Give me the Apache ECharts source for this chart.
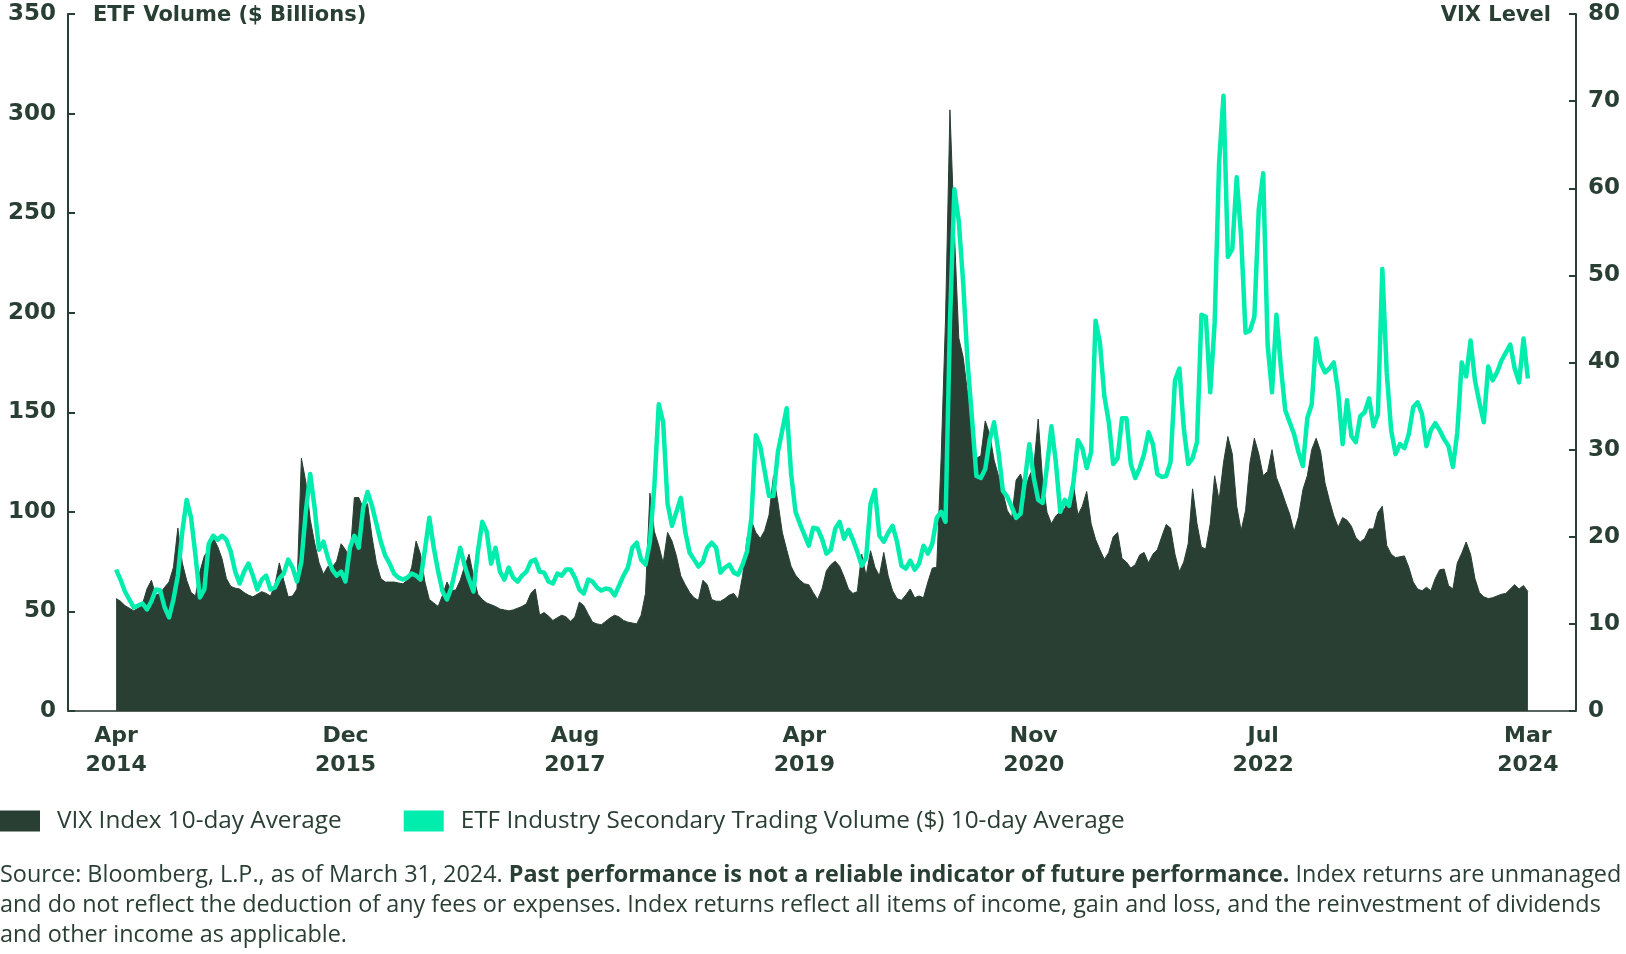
<!DOCTYPE html>
<html>
<head>
<meta charset="utf-8">
<script src="https://cdn.jsdelivr.net/npm/echarts@6/dist/echarts.min.js"></script>
<style>
html,body{margin:0;padding:0;background:#fff;}
#chart{width:1626px;height:954px;}
</style>
</head>
<body>
<div id="chart"></div>
<script>
// ETF Industry Secondary Trading Volume ($B), 10-day average, evenly spaced samples Apr 2014 – Mar 2024
const etfVolume = [
71,66,60,56,52,53,54,51,55,61,
60.5,52,47,56,68,90,106,97,78,57,
61,84,88,86,88,86,80,70,64,70,
74,68,61,66,68,61,62,66.5,69,76,
72,65,75,100,119,102,81,85,77,71,
68,70,65,82,88,82,102,110,103,94,
85,78,74,69,67,66,67,69,68,66,
81,97,82,70,60,56,62,72,82,73,
66,60,80,95,90,74,82,70,66,72,
67,65,68,70,75,76,70,69.5,65,64,
69,68,71,71,67,61,59,66,65,62,
60.5,61.5,61,58,63,68,72,82,84.5,76,
73.5,85,113,154,145,104,93,100,107,90,
79.5,76,72.5,75,82,84.5,82,69.5,72,73.5,
69.5,68.5,73.5,80,97,138.5,133,120.5,108,108,
130,141,152,119,100,94,88.5,83,92,91.5,
86.5,79,81,91.5,95,86.5,91,86,80,73,
77,104,111,88,85,89.5,93,85,73,71.5,
75.5,71,74,83,79,84,97,100,95,195,
262,246,215,175,147,118,117,121.5,136,145,
130,110.5,107.5,102.5,97,99,116,134,117,106,
104.5,123,143,125,100,106,103,115,136,132,
122,130,196,185,158,145,124,127,147,147,
124,117,122,129,140,134,119,117.5,118,125,
166,172,142,124,127,135,199,198,160,195,
275,309,228,232,268,238,190,191,198,252,
270,184,160,199,173,151,145,139,130,123,
147,154,187,175,170,172,175,160,134,156,
138,135,148,150,157,143,149,222,170,141,
129,134,132,139,152.5,155,149,133,141,144.5,
141,136.5,133,122.5,140,175,168,186,166,155,
145,173,166,170,176,180,184,172,165,187,
167
];

// VIX Index, 10-day average, same sample points
const vixLevel = [
12.9,12.6,12.1,11.8,11.5,11.8,12.3,14,15,13.3,
13.5,14.2,14.8,16.5,21,17,15,13.6,13.2,16,
17.8,18.5,19.9,18.9,17.5,15.2,14.3,14.1,14,13.6,
13.3,13.1,13.4,13.7,13.5,13.2,14.5,17,15,13.1,
13.2,14,29,26.3,22,19.3,17,15.7,16.6,16.5,
17.2,19.2,18.5,17.5,24.5,24.5,23.3,23.8,20,17,
15.2,14.8,14.8,14.8,14.7,14.6,15,16.5,19.5,18,
14.8,12.8,12.4,12,13.3,14.8,13.8,13.9,15,16.6,
18,15.5,13.4,12.8,12.4,12.2,12,11.7,11.6,11.5,
11.6,11.8,12,12.3,13.5,14,11,11.3,10.9,10.4,
10.7,11,10.8,10.3,10.8,12.5,12.1,11.1,10.2,10,
9.9,10.3,10.7,11,10.8,10.4,10.2,10.1,10,11,
13.5,25,20.6,19,17,20.5,19.5,17.8,15.5,14.5,
13.6,13,12.7,15,14.5,12.8,12.6,12.6,12.9,13.3,
13.5,12.8,15.5,19.8,21.8,20.5,19.8,20.7,22.5,27,
24,20.5,18.5,16.6,15.6,15,14.6,14.5,13.6,12.8,
14,16.1,16.8,17.2,16.6,15.4,14,13.5,13.7,18,
15.5,18.4,16.5,15.5,18.2,15.5,13.8,12.9,12.7,13.3,
14,13,13.2,13,14.8,16.4,16.5,29,45,69,
55,42.8,40.6,36.5,32.8,29,29.3,33.3,31.8,28.8,
27,25.1,23,22.2,26.5,27.2,25.5,27,28,33.5,
26.5,22.8,21.5,22.4,22.8,23.2,24.5,26,22.5,23.5,
25.2,21.5,19.7,18.5,17.4,18.2,20,20.5,17.5,17.1,
16.4,16.8,17.9,18.2,17,18,18.5,20,21.4,21,
18,16,17.1,19.2,25.5,21.5,18.8,18.6,21.5,27,
24.2,28.5,31.5,29.5,23.5,20.7,23,28.5,31.3,29.5,
27,27.5,30,26.8,25.5,24,22.6,20.6,22.3,25.4,
27,30,31.3,29.8,26.2,24.2,22.4,21.1,22.2,21.9,
21.2,19.9,19.4,19.8,20.9,20.9,22.8,23.5,19,18,
17.6,17.7,17.8,16.5,14.8,14,13.8,14.2,13.8,15.2,
16.2,16.3,14.4,14,17,18.1,19.4,18,15.2,13.6,
13.1,12.9,13,13.2,13.4,13.5,14,14.5,14,14.4,
13.7
];

// x-axis tick labels and the sample index each one sits on
const tickPositions = [0, 52, 104, 156, 208, 260, 320];
const tickLabels = ['Apr\n2014', 'Dec\n2015', 'Aug\n2017', 'Apr\n2019', 'Nov\n2020', 'Jul\n2022', 'Mar\n2024'];

const seriesNames = ['VIX Index 10-day Average', 'ETF Industry Secondary Trading Volume ($) 10-day Average'];

const DARK = '#293F33';
const TEAL = '#00EDAD';
const boldFont = 'DejaVu Sans';
const textFont = 'Open Sans';

const chart = echarts.init(document.getElementById('chart'), null, {renderer: 'canvas'});

const yLabelStyle = {fontFamily: boldFont, fontWeight: 'bold', fontSize: 23, color: DARK, margin: 12};

chart.setOption({
  animation: false,
  grid: {left: 68, right: 50, top: 14, bottom: 243, containLabel: false},
  legend: {
    left: 0, top: 809, padding: 0,
    icon: 'rect', itemWidth: 40, itemHeight: 21, itemGap: 62,
    data: seriesNames,
    textStyle: {fontFamily: textFont, fontSize: 24.3, color: DARK, padding: [0, 0, 0, 12]}
  },
  xAxis: {
    type: 'value', min: -10.9, max: 330.9,
    axisLine: {show: true, onZero: false, lineStyle: {color: '#56655D', width: 2}},
    axisTick: {show: false},
    splitLine: {show: false},
    axisLabel: {
      customValues: tickPositions,
      formatter: function (v) {
        const k = tickPositions.indexOf(Math.round(v));
        return k >= 0 ? tickLabels[k] : '';
      },
      fontFamily: boldFont, fontWeight: 'bold', fontSize: 22, color: DARK,
      lineHeight: 29, margin: 11
    }
  },
  yAxis: [
    {
      type: 'value', position: 'left', min: 0, max: 350, interval: 50,
      axisLine: {show: true, onZero: false, lineStyle: {color: DARK, width: 2}},
      axisTick: {show: true, inside: true, length: 7, lineStyle: {color: DARK, width: 2}},
      splitLine: {show: false},
      axisLabel: yLabelStyle
    },
    {
      type: 'value', position: 'right', min: 0, max: 80, interval: 10,
      axisLine: {show: true, onZero: false, lineStyle: {color: DARK, width: 2}},
      axisTick: {show: true, inside: true, length: 7, lineStyle: {color: DARK, width: 2}},
      splitLine: {show: false},
      axisLabel: yLabelStyle
    }
  ],
  series: [
    {
      name: seriesNames[0], type: 'line', yAxisIndex: 1,
      data: vixLevel.map((v, i) => [i, v]),
      showSymbol: false, symbol: 'none',
      color: DARK,
      lineStyle: {color: DARK, width: 1},
      areaStyle: {color: DARK, opacity: 1},
      z: 2
    },
    {
      name: seriesNames[1], type: 'line', yAxisIndex: 0,
      data: etfVolume.map((v, i) => [i, v]),
      showSymbol: false, symbol: 'none',
      color: TEAL,
      lineStyle: {color: TEAL, width: 4.5, join: 'round'},
      z: 3
    }
  ],
  graphic: [
    {type: 'text', x: 93, y: 16, style: {text: 'ETF Volume ($ Billions)', fontFamily: boldFont, fontWeight: 'bold', fontSize: 21, fill: DARK, align: 'left', verticalAlign: 'middle'}},
    {type: 'text', x: 1551, y: 16, style: {text: 'VIX Level', fontFamily: boldFont, fontWeight: 'bold', fontSize: 21, fill: DARK, align: 'right', verticalAlign: 'middle'}},
    {type: 'text', x: 0, y: 875, style: {
      text: 'Source: Bloomberg, L.P., as of March 31, 2024. {b|Past performance is not a reliable indicator of future performance.} Index returns are unmanaged',
      fontFamily: textFont, fontSize: 23.4, fill: DARK, align: 'left', verticalAlign: 'middle',
      rich: {b: {fontFamily: textFont, fontSize: 23.4, fontWeight: 'bold', fill: DARK}}
    }},
    {type: 'text', x: 0, y: 905, style: {
      text: 'and do not reflect the deduction of any fees or expenses. Index returns reflect all items of income, gain and loss, and the reinvestment of dividends',
      fontFamily: textFont, fontSize: 23.4, fill: DARK, align: 'left', verticalAlign: 'middle'
    }},
    {type: 'text', x: 0, y: 935, style: {
      text: 'and other income as applicable.',
      fontFamily: textFont, fontSize: 23.4, fill: DARK, align: 'left', verticalAlign: 'middle'
    }}
  ]
});
</script>
</body>
</html>
